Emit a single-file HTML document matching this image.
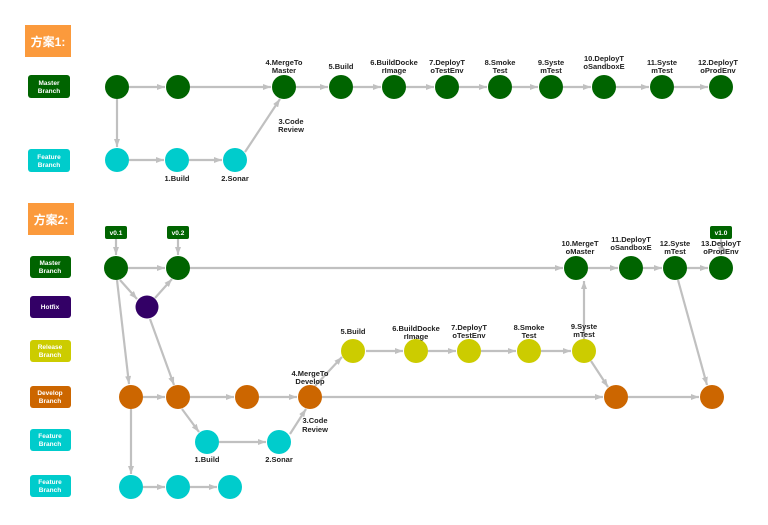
<!DOCTYPE html>
<html><head><meta charset="utf-8"><style>
html,body{margin:0;padding:0;background:#fff;}
svg{display:block;}
text{font-family:"Liberation Sans","Noto Sans CJK SC",sans-serif;}
.l{font-size:7.5px;font-weight:bold;fill:#222;text-anchor:middle;}
.b{font-size:6.5px;fill:#fff;text-anchor:middle;font-weight:bold;}
.e{stroke:#c0c0c0;stroke-width:2.2;fill:none;marker-end:url(#a);}
.n{stroke:#c0c0c0;stroke-width:2.2;fill:none;}
</style></head><body>
<svg width="768" height="525" viewBox="0 0 768 525" xmlns="http://www.w3.org/2000/svg">
<defs><marker id="a" markerWidth="8" markerHeight="6" refX="8" refY="3" orient="auto" markerUnits="userSpaceOnUse"><path d="M0,0 L8,3 L0,6 z" fill="#c0c0c0"/></marker></defs>
<rect width="768" height="525" fill="#fff"/>
<!-- Section 1 -->
<rect x="25" y="25" width="46" height="32" fill="#fb9a3c"/>
<text x="48" y="46" font-size="12" font-weight="bold" fill="#fff" text-anchor="middle">方案1:</text>
<rect x="28" y="75" width="42" height="23" rx="3" fill="#006400"/>
<text class="b" x="49" y="85">Master</text><text class="b" x="49" y="93">Branch</text>
<rect x="28" y="149" width="42" height="23" rx="3" fill="#00cccc"/>
<text class="b" x="49" y="159">Feature</text><text class="b" x="49" y="167">Branch</text>
<g>
<line class="e" x1="129" y1="87" x2="165" y2="87"/>
<line class="e" x1="190" y1="87" x2="271" y2="87"/>
<line class="e" x1="296" y1="87" x2="328" y2="87"/>
<line class="e" x1="353" y1="87" x2="381" y2="87"/>
<line class="e" x1="406" y1="87" x2="434" y2="87"/>
<line class="e" x1="459" y1="87" x2="487" y2="87"/>
<line class="e" x1="512" y1="87" x2="538" y2="87"/>
<line class="e" x1="563" y1="87" x2="591" y2="87"/>
<line class="e" x1="616" y1="87" x2="649" y2="87"/>
<line class="e" x1="674" y1="87" x2="708" y2="87"/>
<line class="e" x1="117" y1="99" x2="117" y2="147"/>
<line class="e" x1="129" y1="160" x2="164" y2="160"/>
<line class="e" x1="189" y1="160" x2="222" y2="160"/>
<line class="e" x1="245" y1="152" x2="280" y2="99"/>
</g>
<g fill="#006400">
<circle cx="117" cy="87" r="12"/><circle cx="178" cy="87" r="12"/><circle cx="284" cy="87" r="12"/>
<circle cx="341" cy="87" r="12"/><circle cx="394" cy="87" r="12"/><circle cx="447" cy="87" r="12"/>
<circle cx="500" cy="87" r="12"/><circle cx="551" cy="87" r="12"/><circle cx="604" cy="87" r="12"/>
<circle cx="662" cy="87" r="12"/><circle cx="721" cy="87" r="12"/>
</g>
<g fill="#00cccc"><circle cx="117" cy="160" r="12"/><circle cx="177" cy="160" r="12"/><circle cx="235" cy="160" r="12"/></g>
<text class="l" x="284" y="65">4.MergeTo</text><text class="l" x="284" y="73">Master</text>
<text class="l" x="341" y="69">5.Build</text>
<text class="l" x="394" y="65">6.BuildDocke</text><text class="l" x="394" y="73">rImage</text>
<text class="l" x="447" y="65">7.DeployT</text><text class="l" x="447" y="73">oTestEnv</text>
<text class="l" x="500" y="65">8.Smoke</text><text class="l" x="500" y="73">Test</text>
<text class="l" x="551" y="65">9.Syste</text><text class="l" x="551" y="73">mTest</text>
<text class="l" x="604" y="61">10.DeployT</text><text class="l" x="604" y="69">oSandboxE</text>
<text class="l" x="662" y="65">11.Syste</text><text class="l" x="662" y="73">mTest</text>
<text class="l" x="718" y="65">12.DeployT</text><text class="l" x="718" y="73">oProdEnv</text>
<text class="l" x="291" y="124">3.Code</text><text class="l" x="291" y="132">Review</text>
<text class="l" x="177" y="181">1.Build</text><text class="l" x="235" y="181">2.Sonar</text>

<!-- Section 2 -->
<rect x="28" y="203" width="46" height="32" fill="#fb9a3c"/>
<text x="51" y="224" font-size="12" font-weight="bold" fill="#fff" text-anchor="middle">方案2:</text>
<rect x="30" y="256" width="41" height="22" rx="3" fill="#006400"/>
<text class="b" x="50" y="265">Master</text><text class="b" x="50" y="273">Branch</text>
<rect x="30" y="296" width="41" height="22" rx="3" fill="#330066"/>
<text class="b" x="50" y="309">Hotfix</text>
<rect x="30" y="340" width="41" height="22" rx="3" fill="#cccc00"/>
<text class="b" x="50" y="349" fill="#eee">Release</text><text class="b" x="50" y="357">Branch</text>
<rect x="30" y="386" width="41" height="22" rx="3" fill="#cc6600"/>
<text class="b" x="50" y="395">Develop</text><text class="b" x="50" y="403">Branch</text>
<rect x="30" y="429" width="41" height="22" rx="3" fill="#00cccc"/>
<text class="b" x="50" y="438">Feature</text><text class="b" x="50" y="446">Branch</text>
<rect x="30" y="475" width="41" height="22" rx="3" fill="#00cccc"/>
<text class="b" x="50" y="484">Feature</text><text class="b" x="50" y="492">Branch</text>

<rect x="105" y="226" width="22" height="13" rx="2" fill="#006400"/><text class="b" x="116" y="235">v0.1</text>
<rect x="167" y="226" width="22" height="13" rx="2" fill="#006400"/><text class="b" x="178" y="235">v0.2</text>
<rect x="710" y="226" width="22" height="13" rx="2" fill="#006400"/><text class="b" x="721" y="235">v1.0</text>
<g>
<line class="e" x1="116" y1="239" x2="116" y2="255"/>
<line class="e" x1="178" y1="239" x2="178" y2="255"/>
<line class="e" x1="721" y1="239" x2="721" y2="255"/>
<line class="e" x1="128" y1="268" x2="165" y2="268"/>
<line class="e" x1="190" y1="268" x2="563" y2="268"/>
<line class="e" x1="588" y1="268" x2="618" y2="268"/>
<line class="e" x1="643" y1="268" x2="662" y2="268"/>
<line class="e" x1="687" y1="268" x2="708" y2="268"/>
<line class="e" x1="120" y1="280" x2="137" y2="299"/>
<line class="e" x1="155" y1="298" x2="172" y2="279"/>
<line class="e" x1="117" y1="280" x2="129" y2="384"/>
<line class="e" x1="150" y1="319" x2="174" y2="385"/>
<line class="e" x1="143" y1="397" x2="165" y2="397"/>
<line class="e" x1="190" y1="397" x2="234" y2="397"/>
<line class="e" x1="259" y1="397" x2="297" y2="397"/>
<line class="e" x1="322" y1="397" x2="603" y2="397"/>
<line class="e" x1="628" y1="397" x2="699" y2="397"/>
<line class="e" x1="131" y1="409" x2="131" y2="474"/>
<line class="e" x1="143" y1="487" x2="165" y2="487"/>
<line class="e" x1="190" y1="487" x2="217" y2="487"/>
<line class="e" x1="182" y1="409" x2="199" y2="432"/>
<line class="e" x1="219" y1="442" x2="266" y2="442"/>
<line class="e" x1="290" y1="434" x2="306" y2="409"/>
<line class="e" x1="315" y1="386" x2="342" y2="357"/>
<line class="e" x1="366" y1="351" x2="403" y2="351"/>
<line class="e" x1="428" y1="351" x2="456" y2="351"/>
<line class="e" x1="481" y1="351" x2="516" y2="351"/>
<line class="e" x1="541" y1="351" x2="571" y2="351"/>
<line class="e" x1="584" y1="339" x2="584" y2="281"/>
<line class="e" x1="591" y1="361" x2="608" y2="387"/>
<line class="e" x1="678" y1="280" x2="707" y2="385"/>
</g>
<g fill="#006400"><circle cx="116" cy="268" r="12"/><circle cx="178" cy="268" r="12"/><circle cx="576" cy="268" r="12"/><circle cx="631" cy="268" r="12"/><circle cx="675" cy="268" r="12"/><circle cx="721" cy="268" r="12"/></g>
<circle cx="147" cy="307" r="11.5" fill="#330066"/>
<g fill="#cccc00"><circle cx="353" cy="351" r="12"/><circle cx="416" cy="351" r="12"/><circle cx="469" cy="351" r="12"/><circle cx="529" cy="351" r="12"/><circle cx="584" cy="351" r="12"/></g>
<g fill="#cc6600"><circle cx="131" cy="397" r="12"/><circle cx="178" cy="397" r="12"/><circle cx="247" cy="397" r="12"/><circle cx="310" cy="397" r="12"/><circle cx="616" cy="397" r="12"/><circle cx="712" cy="397" r="12"/></g>
<g fill="#00cccc"><circle cx="207" cy="442" r="12"/><circle cx="279" cy="442" r="12"/><circle cx="131" cy="487" r="12"/><circle cx="178" cy="487" r="12"/><circle cx="230" cy="487" r="12"/></g>
<text class="l" x="353" y="334">5.Build</text>
<text class="l" x="416" y="331">6.BuildDocke</text><text class="l" x="416" y="339">rImage</text>
<text class="l" x="469" y="330">7.DeployT</text><text class="l" x="469" y="338">oTestEnv</text>
<text class="l" x="529" y="330">8.Smoke</text><text class="l" x="529" y="338">Test</text>
<text class="l" x="584" y="329">9.Syste</text><text class="l" x="584" y="337">mTest</text>
<text class="l" x="310" y="376">4.MergeTo</text><text class="l" x="310" y="384">Develop</text>
<text class="l" x="315" y="423">3.Code</text><text class="l" x="315" y="432">Review</text>
<text class="l" x="207" y="462">1.Build</text><text class="l" x="279" y="462">2.Sonar</text>
<text class="l" x="580" y="246">10.MergeT</text><text class="l" x="580" y="254">oMaster</text>
<text class="l" x="631" y="242">11.DeployT</text><text class="l" x="631" y="250">oSandboxE</text>
<text class="l" x="675" y="246">12.Syste</text><text class="l" x="675" y="254">mTest</text>
<text class="l" x="721" y="246">13.DeployT</text><text class="l" x="721" y="254">oProdEnv</text>
</svg>
</body></html>
